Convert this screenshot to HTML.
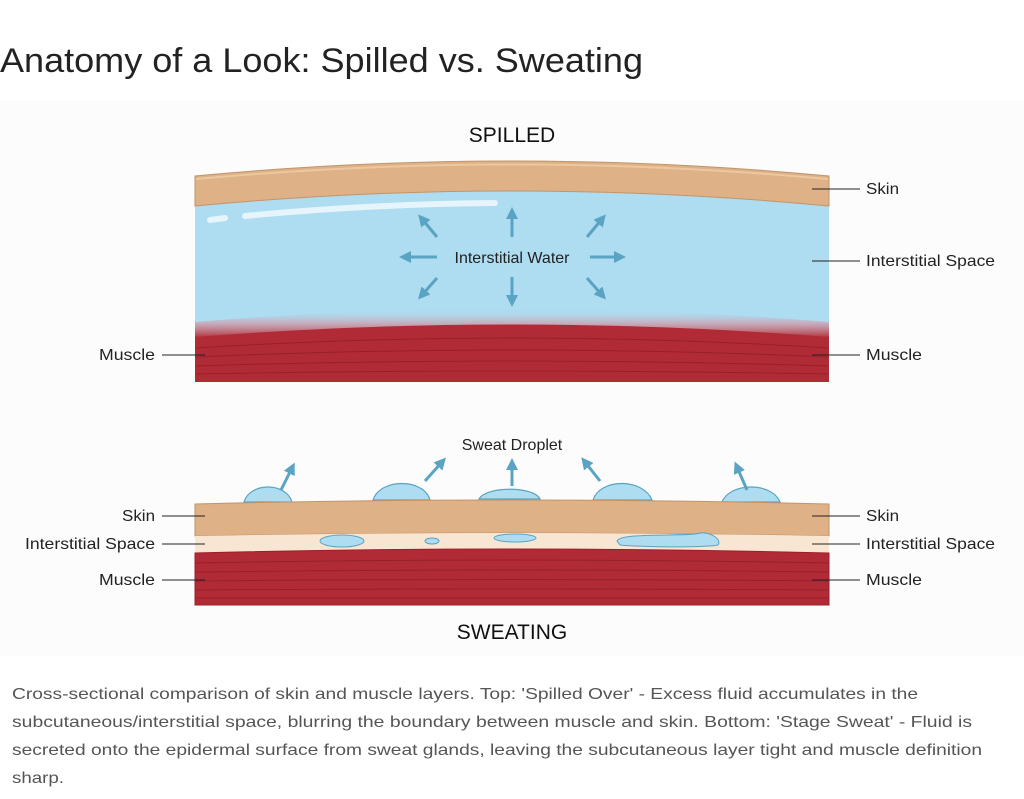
<!DOCTYPE html>
<html><head><meta charset="utf-8"><style>
html,body{margin:0;padding:0;background:#fff;width:1024px;height:799px;overflow:hidden;font-family:"Liberation Sans",sans-serif}
</style></head><body>
<svg width="1024" height="799" viewBox="0 0 1024 799" xmlns="http://www.w3.org/2000/svg" font-family="Liberation Sans, sans-serif">
<defs>
<linearGradient id="blur" x1="0" y1="0" x2="0" y2="1">
<stop offset="0" stop-color="#aedcf0" stop-opacity="0"/>
<stop offset="0.5" stop-color="#d68a98" stop-opacity="0.6"/>
<stop offset="1" stop-color="#b12b36" stop-opacity="1"/>
</linearGradient>
<marker id="ah" viewBox="0 0 10 10" refX="5" refY="5" markerWidth="4" markerHeight="4" orient="auto"><path d="M0,0 L10,5 L0,10 z" fill="#5ba3c2"/></marker>
</defs>
<rect x="0" y="100" width="1024" height="556" fill="#fcfcfc"/>
<text x="0" y="72" font-size="34" fill="#222" textLength="643" lengthAdjust="spacingAndGlyphs">Anatomy of a Look: Spilled vs. Sweating</text>
<text x="512" y="142" font-size="21" text-anchor="middle" fill="#111">SPILLED</text>

<!-- top diagram -->
<path d="M195,206 Q512,176 829,206 L829,340 L195,340 Z" fill="#aedcf0"/>
<path d="M195,176 Q512,146 829,176 L829,206 Q512,176 195,206 Z" fill="#deb186" stroke="#c29469" stroke-width="1"/>
<path d="M196,179 Q512,150 828,179" stroke="#ecc79f" stroke-width="2" fill="none"/>
<path d="M195,322 Q512,296 829,322 L829,338 Q512,313 195,338 Z" fill="url(#blur)"/>
<path d="M195,337 Q512,312 829,337 L829,382 L195,382 Z" fill="#b12b36"/>
<g stroke="#8e1a25" stroke-width="1" fill="none" opacity="0.7">
<path d="M195,348 Q512,328 829,348"/><path d="M195,357 Q512,343 829,357"/><path d="M195,366 Q512,356 829,366"/><path d="M195,374 Q512,368 829,374"/>
</g>
<path d="M210,220 L225,218" stroke="#e6f4fb" stroke-width="6" stroke-linecap="round"/>
<path d="M245,216 Q370,204 495,203" stroke="#e6f4fb" stroke-width="6" stroke-linecap="round" fill="none"/>
<text x="512" y="263" font-size="16" text-anchor="middle" fill="#222">Interstitial Water</text>
<g stroke="#5ba3c2" stroke-width="3" marker-end="url(#ah)">
<line x1="512" y1="237" x2="512" y2="213"/><line x1="512" y1="277" x2="512" y2="301"/>
<line x1="437" y1="257" x2="405" y2="257"/><line x1="590" y1="257" x2="620" y2="257"/>
<line x1="437" y1="237" x2="422" y2="219"/><line x1="587" y1="237" x2="602" y2="219"/>
<line x1="437" y1="278" x2="422" y2="295"/><line x1="587" y1="278" x2="602" y2="295"/>
</g>
<g stroke="#222" stroke-width="1">
<line x1="812" y1="189" x2="860" y2="189"/><line x1="812" y1="261" x2="860" y2="261"/><line x1="812" y1="355" x2="860" y2="355"/><line x1="162" y1="355" x2="205" y2="355"/>
</g>
<g font-size="16" fill="#222">
<text x="866" y="194" textLength="33" lengthAdjust="spacingAndGlyphs">Skin</text><text x="866" y="266" textLength="129" lengthAdjust="spacingAndGlyphs">Interstitial Space</text><text x="866" y="360" textLength="56" lengthAdjust="spacingAndGlyphs">Muscle</text><text x="99" y="360" textLength="56" lengthAdjust="spacingAndGlyphs">Muscle</text>
</g>

<!-- bottom diagram -->
<text x="512" y="450" font-size="16" text-anchor="middle" fill="#222">Sweat Droplet</text>
<g fill="#aedcf0" stroke="#5ba3c2" stroke-width="1.2">
<path d="M244,502 C250,482 286,482 292,502 Z"/>
<path d="M373,500 C380,478 424,478 430,500 Z"/>
<path d="M479,499 C486,486 534,486 540,499 Z"/>
<path d="M593,500 C600,478 643,478 652,500 Z"/>
<path d="M722,502 C730,482 772,482 780,502 Z"/>
</g>
<g stroke="#5ba3c2" stroke-width="3" marker-end="url(#ah)">
<line x1="281" y1="490" x2="292" y2="468"/>
<line x1="425" y1="481" x2="442" y2="462"/><line x1="512" y1="486" x2="512" y2="464"/>
<line x1="600" y1="481" x2="585" y2="462"/><line x1="747" y1="490" x2="737" y2="467"/>
</g>
<path d="M195,504 Q512,496 829,504 L829,536 Q512,530 195,536 Z" fill="#deb186" stroke="#c29469" stroke-width="1"/>
<path d="M195,536 Q512,530 829,536 L829,553 Q512,545 195,553 Z" fill="#f8e6d3"/>
<path d="M195,553 Q512,545 829,553 L829,605 L195,605 Z" fill="#b12b36" stroke="#9a1f2a" stroke-width="1"/>
<g stroke="#8e1a25" stroke-width="1" fill="none" opacity="0.7">
<path d="M195,563 Q512,557 829,563"/><path d="M195,572 Q512,568 829,572"/><path d="M195,581 Q512,578 829,581"/><path d="M195,590 Q512,588 829,590"/><path d="M195,598 L829,598"/>
</g>
<g fill="#aedcf0" stroke="#5ba3c2" stroke-width="1">
<ellipse cx="342" cy="541" rx="22" ry="6"/><ellipse cx="432" cy="541" rx="7" ry="3"/><ellipse cx="515" cy="538" rx="21" ry="4"/>
<path d="M617,541 C620,532 690,537 700,533 C712,532 722,540 718,545 C700,548 640,547 620,545 Z"/>
</g>
<g stroke="#222" stroke-width="1">
<line x1="162" y1="516" x2="205" y2="516"/><line x1="162" y1="544" x2="205" y2="544"/><line x1="162" y1="580" x2="205" y2="580"/>
<line x1="812" y1="516" x2="860" y2="516"/><line x1="812" y1="544" x2="860" y2="544"/><line x1="812" y1="580" x2="860" y2="580"/>
</g>
<g font-size="16" fill="#222">
<text x="122" y="521" textLength="33" lengthAdjust="spacingAndGlyphs">Skin</text><text x="25" y="549" textLength="130" lengthAdjust="spacingAndGlyphs">Interstitial Space</text><text x="99" y="585" textLength="56" lengthAdjust="spacingAndGlyphs">Muscle</text>
<text x="866" y="521" textLength="33" lengthAdjust="spacingAndGlyphs">Skin</text><text x="866" y="549" textLength="129" lengthAdjust="spacingAndGlyphs">Interstitial Space</text><text x="866" y="585" textLength="56" lengthAdjust="spacingAndGlyphs">Muscle</text>
</g>
<text x="512" y="639" font-size="21" text-anchor="middle" fill="#111">SWEATING</text>

<g font-size="16" fill="#555">
<text x="12" y="699" textLength="906" lengthAdjust="spacingAndGlyphs">Cross-sectional comparison of skin and muscle layers. Top: 'Spilled Over' - Excess fluid accumulates in the</text>
<text x="12" y="727" textLength="960" lengthAdjust="spacingAndGlyphs">subcutaneous/interstitial space, blurring the boundary between muscle and skin. Bottom: 'Stage Sweat' - Fluid is</text>
<text x="12" y="755" textLength="970" lengthAdjust="spacingAndGlyphs">secreted onto the epidermal surface from sweat glands, leaving the subcutaneous layer tight and muscle definition</text>
<text x="12" y="783" textLength="52" lengthAdjust="spacingAndGlyphs">sharp.</text>
</g>
</svg>
</body></html>
